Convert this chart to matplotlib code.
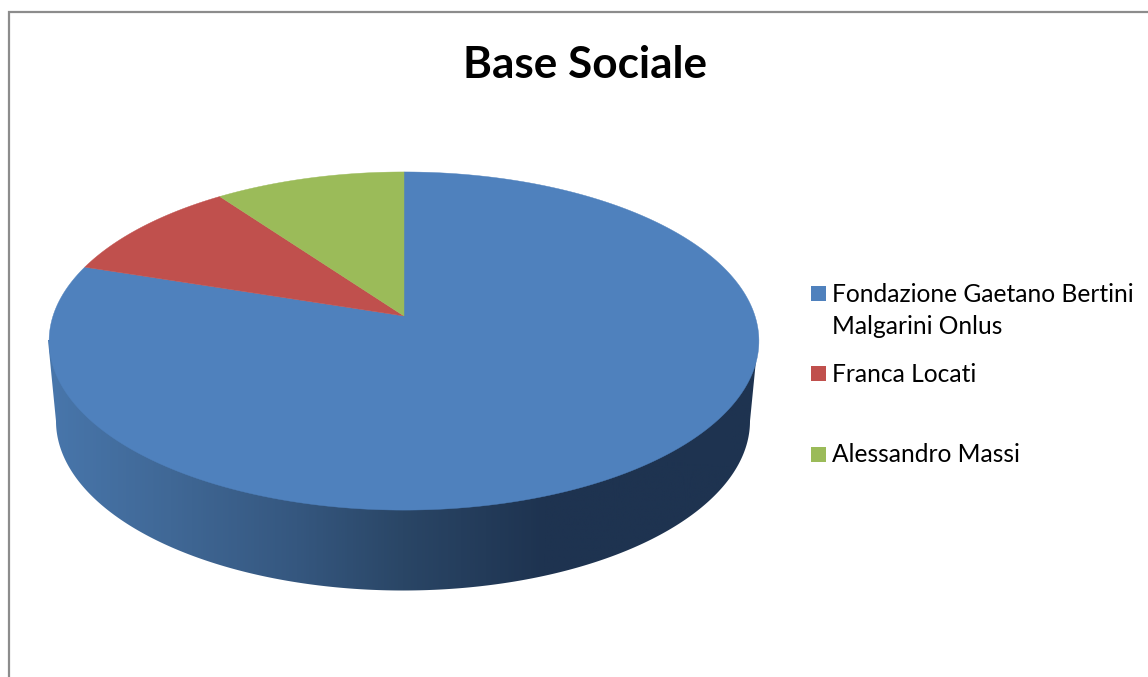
import numpy as np
from matplotlib import pyplot as plt
from matplotlib.colors import LinearSegmentedColormap
from matplotlib.patches import Polygon, Rectangle

shares = [80, 10, 10]
labels = ['Fondazione Gaetano Bertini\nMalgarini Onlus', 'Franca Locati', 'Alessandro Massi']
colors = ['#4f81bd', '#c0504d', '#9bbb59']

# the picture is drawn in pixel coordinates
W, H = 1148, 677
CX, CY = 404, 316
K, A, C = 351.0, -118.6, 0.148


def disk_point(theta):
    # theta clockwise from 12 o'clock, tilted disk with perspective
    s, c = np.cos(theta), np.sin(theta)
    d = 1 + C * s
    return CX + K * c / d, (A * s + CY) / d


plt.rcParams['font.family'] = ['Lato', 'DejaVu Sans']
fig = plt.figure(figsize=(W / 100, H / 100), dpi=100)
ax = fig.add_axes([0, 0, 1, 1])
ax.set_xlim(0, W)
ax.set_ylim(H, 0)
ax.axis('off')

# chart frame, only top and left are inside the crop
ax.plot([9, 9, W], [H, 12, 12], color='#8c8c8c', lw=1.6, solid_joinstyle='miter')

# side wall: lower rim plus the silhouette up to the top disk
t = np.linspace(np.pi, 2 * np.pi, 300)
wall_x = np.r_[403 + 355 * np.cos(t[0]), 403 + 347 * np.cos(t), 403 + 355]
wall_y = np.r_[340, 421 - 169.5 * np.sin(t), 340]
wall = Polygon(np.c_[wall_x, wall_y], closed=True, fc='none', ec='none')
ax.add_patch(wall)
wall_cmap = LinearSegmentedColormap.from_list('wall', [
    (0.0, '#4876ab'), (0.17, '#406896'), (0.35, '#35577f'),
    (0.5, '#2a4666'), (0.7, '#1e3350'), (1.0, '#1e3350')])
img = ax.imshow(np.linspace(0, 1, 700)[None, :], cmap=wall_cmap, extent=[48, 758, 600, 330],
                aspect='auto', zorder=1)
img.set_clip_path(wall)
ax.set_xlim(0, W)
ax.set_ylim(H, 0)

# top of the pie, clockwise from 12 o'clock
edges = np.r_[0, np.cumsum(shares)] / np.sum(shares) * 2 * np.pi
for start, end, col in zip(edges[:-1], edges[1:], colors):
    th = np.linspace(start, end, 300)
    x, y = disk_point(th)
    ax.add_patch(Polygon(np.c_[np.r_[CX, x], np.r_[CY, y]], closed=True,
                         fc=col, ec=col, lw=0.3, zorder=2))

ax.text(585, 65.5, 'Base Sociale', ha='center', va='center', fontsize=31.8, fontweight='bold', color='black')

# legend
legend_y = [294, 374, 455]
for lab, col, y in zip(labels, colors, legend_y):
    ax.add_patch(Rectangle((811, y - 8), 15, 15, fc=col, ec='none'))
    for i, line in enumerate(lab.split('\n')):
        ax.text(832, y + i * 32, line, ha='left', va='center', fontsize=17.7, color='black')

fig.savefig('out.png', dpi=100)
